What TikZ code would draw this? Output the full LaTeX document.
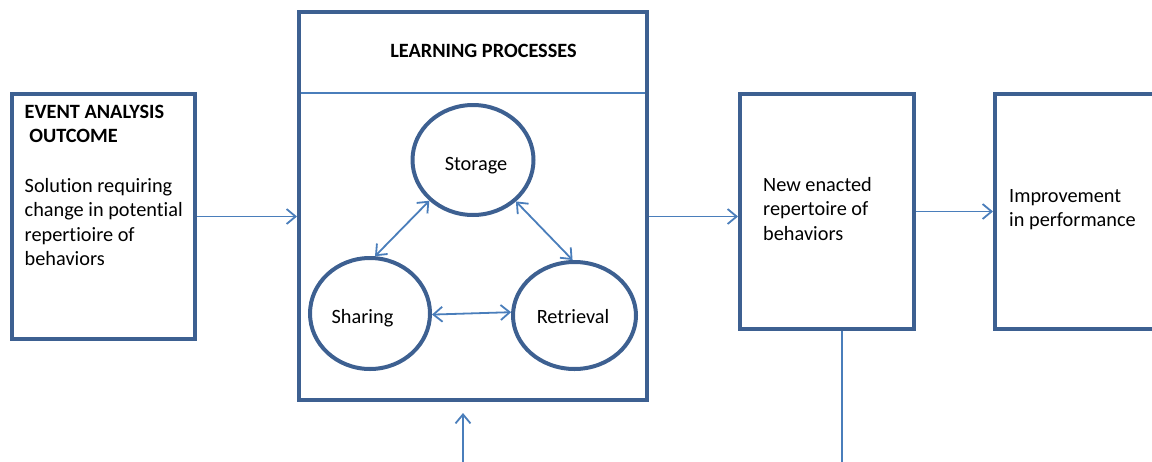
\documentclass[tikz,border=0pt]{standalone}
\usepackage{fontspec}
\setmainfont{Carlito}[Ligatures=NoCommon]
\usetikzlibrary{shapes.geometric,arrows.meta}

\definecolor{boxblue}{RGB}{61,96,145}
\definecolor{linkblue}{RGB}{74,126,187}

\tikzset{
  box/.style={draw=boxblue, line width=4pt, rectangle, inner sep=0pt},
  proc/.style={draw=boxblue, line width=4pt, ellipse, inner sep=0pt},
  barb/.tip={Straight Barb[length=9pt,width=15pt]},
  link/.style={draw=linkblue, line width=1.8pt, -barb},
  both/.style={link, barb-barb},
  txt/.style={inner sep=0pt, align=left, font=\fontsize{20.3}{24.4}\selectfont}
}

\begin{document}
\begin{tikzpicture}[x=1pt,y=-1pt]
\clip (0,0) rectangle (1152,461);
% the four boxes
\node[box, minimum width=183pt, minimum height=245pt] (event) at (103.5,216.5) {};
\node[box, minimum width=348pt, minimum height=388pt] (learn) at (473,206) {};
\node[box, minimum width=174pt, minimum height=235pt] (enact) at (827,211.5) {};
\node[box, minimum width=174pt, minimum height=235pt] (perf) at (1082,211.5) {};

% header of the learning box
\coordinate (rule) at (0,93);
\draw[linkblue, line width=1.6pt] ([xshift=4pt]learn.west |- rule) -- ([xshift=-4pt]learn.east |- rule);
\node[font=\bfseries\fontsize{20.3}{24}\selectfont] (title) at (483.5,50.5) {LEARNING PROCESSES};

% the three processes
\node[proc, minimum width=121pt, minimum height=110pt] (storage) at (473,160) {};
\node[proc, minimum width=120pt, minimum height=111pt] (sharing) at (370,313.5) {};
\node[proc, minimum width=123pt, minimum height=107pt] (retrieval) at (574.5,315.5) {};
\node[txt, anchor=base] (storage-l) at (476,170) {Storage};
\node[txt, anchor=base] (sharing-l) at (362.5,323) {Sharing};
\node[txt, anchor=base] (retrieval-l) at (573,323) {Retrieval};

\draw[both] (storage.223) -- (sharing.85);
\draw[both] (storage.-44) -- (retrieval.92);
\draw[both] (sharing.-1) -- (retrieval.177);

% box texts
\node[txt, anchor=north west] (outcome) at (24.5,105)
  {\textbf{EVENT ANALYSIS}\\\textbf{\ OUTCOME}\\[25pt]Solution requiring\\change in potential\\repertioire of\\behaviors};
\node[txt, anchor=north west] (enacted) at (763,177) {New enacted\\repertoire of\\behaviors};
\node[txt, anchor=north west] (improve) at (1009,189) {Improvement\\in performance};

% connectors
\draw[link] (event.east) -- (event.east -| learn.west);
\draw[link] (event.east -| learn.east) -- (event.east -| enact.west);
\draw[link] (enact.east) -- (perf.west);
\coordinate (drop) at (842,465);
\draw[linkblue, line width=1.8pt] (enact.south -| drop) -- (drop);
\coordinate (feed) at (463,465);
\draw[link] (feed) -- ([yshift=-11pt]learn.south -| feed);
\end{tikzpicture}
\end{document}
